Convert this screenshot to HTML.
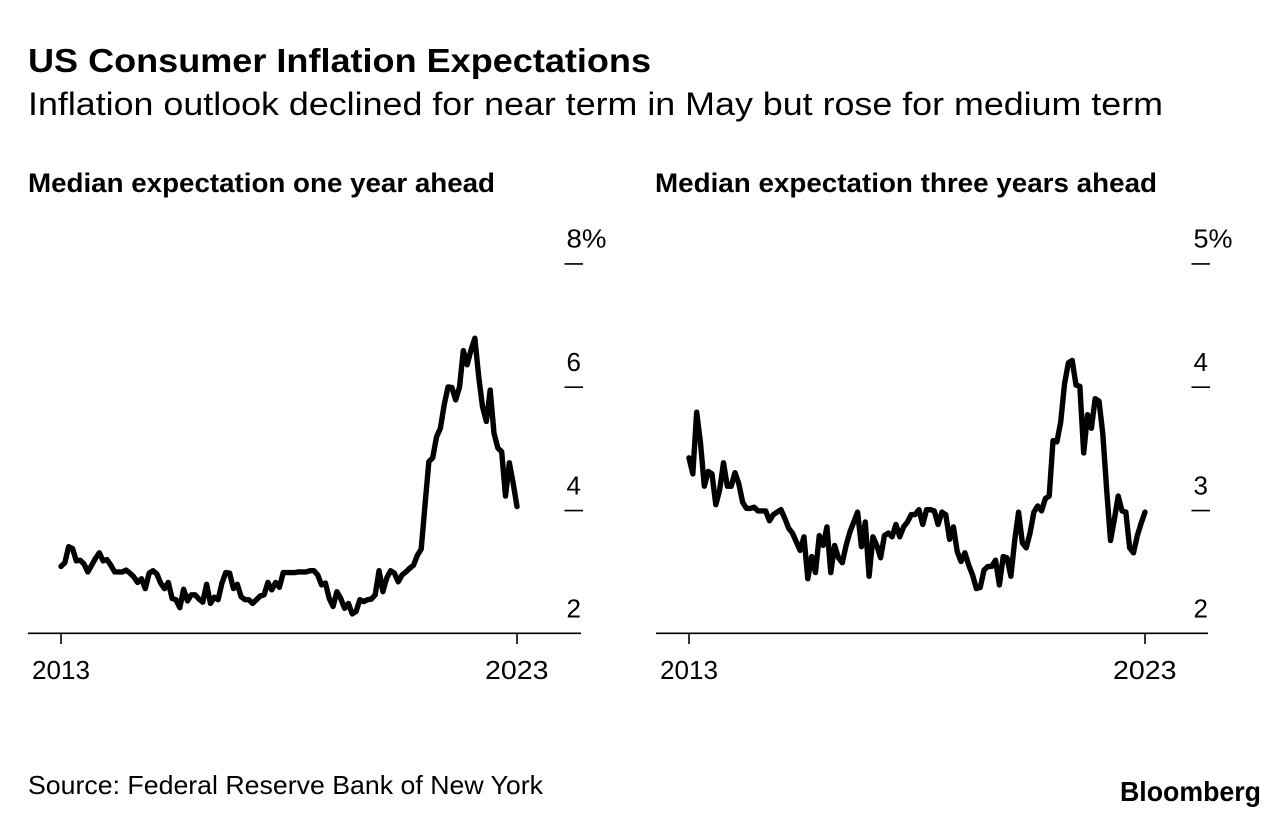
<!DOCTYPE html>
<html lang="en">
<head>
<meta charset="utf-8">
<title>US Consumer Inflation Expectations</title>
<style>
html,body{margin:0;padding:0;background:#fff;}
svg{display:block;}
text{font-family:"Liberation Sans",sans-serif;fill:#000;}
</style>
</head>
<body>
<svg id="root" width="1283" height="824" viewBox="0 0 1283 824" xmlns="http://www.w3.org/2000/svg">
  <rect width="1283" height="824" fill="#fff"/>
  <text x="28" y="72" font-size="33" font-weight="700" textLength="623" lengthAdjust="spacingAndGlyphs">US Consumer Inflation Expectations</text>
  <text x="28" y="115" font-size="32" textLength="1135" lengthAdjust="spacingAndGlyphs">Inflation outlook declined for near term in May but rose for medium term</text>
  <text x="28" y="192" font-size="27" font-weight="700" textLength="467" lengthAdjust="spacingAndGlyphs">Median expectation one year ahead</text>
  <text x="655" y="192" font-size="27" font-weight="700" textLength="502" lengthAdjust="spacingAndGlyphs">Median expectation three years ahead</text>
  <g id="left-panel"></g>
  <g id="right-panel"></g>
  <text x="28" y="794" font-size="26" textLength="515" lengthAdjust="spacingAndGlyphs">Source: Federal Reserve Bank of New York</text>
  <text x="1120" y="801" font-size="28" font-weight="700" textLength="141" lengthAdjust="spacingAndGlyphs">Bloomberg</text>
</svg>
<script>
const xTickLabels = ["2013", "2023"];
const xTickIndexes = [0, 119];

const oneYearTicks = [2, 4, 6, 8];
const oneYearTickLabels = ["2", "4", "6", "8%"];
const oneYearValues = [
  3.08,3.14,3.40,3.37,3.17,3.18,3.12,2.99,3.10,3.21,
  3.30,3.17,3.19,3.10,2.99,2.99,2.99,3.02,2.97,2.91,
  2.82,2.88,2.72,2.97,3.01,2.96,2.81,2.72,2.82,2.56,
  2.54,2.41,2.71,2.52,2.62,2.62,2.55,2.50,2.79,2.48,
  2.58,2.54,2.81,2.98,2.97,2.72,2.79,2.59,2.54,2.54,
  2.48,2.54,2.60,2.62,2.82,2.70,2.82,2.74,2.98,2.98,
  2.98,2.98,2.99,2.99,2.99,3.01,3.01,2.94,2.78,2.81,
  2.56,2.43,2.67,2.56,2.40,2.48,2.31,2.35,2.54,2.51,
  2.54,2.55,2.62,3.01,2.67,2.89,3.01,2.97,2.83,2.94,
  2.99,3.05,3.10,3.26,3.36,4.08,4.78,4.84,5.18,5.32,
  5.70,5.99,5.98,5.78,5.99,6.58,6.35,6.59,6.78,6.16,
  5.67,5.43,5.94,5.24,5.00,4.94,4.22,4.76,4.43,4.05
];

const threeYearTicks = [2, 3, 4, 5];
const threeYearTickLabels = ["2", "3", "4", "5%"];
const threeYearValues = [
  3.42,3.29,3.79,3.54,3.19,3.31,3.29,3.04,3.16,3.38,
  3.19,3.19,3.30,3.21,3.06,3.01,3.01,3.02,2.99,2.99,
  2.99,2.91,2.96,2.98,3.00,2.93,2.85,2.81,2.74,2.67,
  2.78,2.44,2.62,2.49,2.79,2.71,2.86,2.49,2.71,2.61,
  2.57,2.71,2.82,2.90,2.98,2.70,2.90,2.46,2.78,2.71,
  2.61,2.79,2.81,2.78,2.88,2.78,2.86,2.90,2.96,2.96,
  3.00,2.88,3.00,3.00,2.99,2.88,2.98,2.96,2.76,2.86,
  2.66,2.58,2.65,2.55,2.47,2.36,2.37,2.51,2.54,2.54,
  2.59,2.39,2.62,2.61,2.46,2.75,2.98,2.73,2.69,2.81,
  2.98,3.03,2.99,3.09,3.11,3.56,3.55,3.71,4.02,4.19,
  4.21,4.01,4.00,3.46,3.77,3.66,3.90,3.88,3.61,3.16,
  2.75,2.92,3.11,2.99,2.98,2.69,2.65,2.79,2.89,2.98
];

const SVG_NS = "http://www.w3.org/2000/svg";

function makeScale(d0, d1, r0, r1) {
  return function (v) { return r0 + (v - d0) * (r1 - r0) / (d1 - d0); };
}

function drawPanel(groupId, panel, values, ticks, tickLabels) {
  const group = document.getElementById(groupId);
  const xScale = makeScale(0, values.length - 1, panel.xStart, panel.xEnd);
  const yScale = makeScale(ticks[0], ticks[ticks.length - 1], panel.yBottom, panel.yTop);

  ticks.forEach(function (tick, i) {
    const y = yScale(tick);
    if (i > 0) {
      const mark = document.createElementNS(SVG_NS, "line");
      
      
      mark.setAttribute("x1", panel.axisEnd - 16.5);
      mark.setAttribute("x2", panel.axisEnd + 2);
      mark.setAttribute("y1", y + 0.9);
      mark.setAttribute("y2", y + 0.9);
      mark.setAttribute("stroke", "#000");
      mark.setAttribute("stroke-width", "1.6");
      group.appendChild(mark);
    }
    const label = document.createElementNS(SVG_NS, "text");
    
    
    label.setAttribute("x", panel.axisEnd - 14.5);
    label.setAttribute("y", y - 15.4);
    label.setAttribute("font-size", "26");
    if (i === ticks.length - 1) {
      label.setAttribute("textLength", panel.topLabelWidth);
      label.setAttribute("lengthAdjust", "spacingAndGlyphs");
    }
    label.textContent = tickLabels[i];
    group.appendChild(label);
  });

  const baseline = document.createElementNS(SVG_NS, "line");
  
  
  baseline.setAttribute("x1", panel.axisStart);
  baseline.setAttribute("x2", panel.axisEnd);
  baseline.setAttribute("y1", panel.yBottom + 0.3);
  baseline.setAttribute("y2", panel.yBottom + 0.3);
  baseline.setAttribute("stroke", "#000");
  baseline.setAttribute("stroke-width", "1.6");
  group.appendChild(baseline);

  xTickIndexes.forEach(function (index, i) {
    const x = xScale(index);
    const mark = document.createElementNS(SVG_NS, "line");
    
    
    mark.setAttribute("x1", x);
    mark.setAttribute("x2", x);
    mark.setAttribute("y1", panel.yBottom);
    mark.setAttribute("y2", panel.yBottom + 11);
    mark.setAttribute("stroke", "#000");
    mark.setAttribute("stroke-width", "1.6");
    group.appendChild(mark);

    const label = document.createElementNS(SVG_NS, "text");
    
    
    label.setAttribute("x", i === 0 ? x - 29 : x - 32);
    label.setAttribute("y", panel.yBottom + 46);
    label.setAttribute("font-size", "26");
    label.setAttribute("textLength", i === 0 ? 58 : 63.5);
    label.setAttribute("lengthAdjust", "spacingAndGlyphs");
    label.textContent = xTickLabels[i];
    group.appendChild(label);
  });

  const points = values.map(function (v, i) {
    return xScale(i).toFixed(2) + "," + yScale(v).toFixed(2);
  }).join(" ");
  const line = document.createElementNS(SVG_NS, "polyline");
  
  
  line.setAttribute("points", points);
  line.setAttribute("fill", "none");
  line.setAttribute("stroke", "#000");
  line.setAttribute("stroke-width", "5.4");
  line.setAttribute("stroke-linejoin", "round");
  line.setAttribute("stroke-linecap", "round");
  group.appendChild(line);
}

drawPanel("left-panel",
  { xStart: 61, xEnd: 517, yBottom: 633, yTop: 263, axisStart: 28, axisEnd: 581, topLabelWidth: 40 },
  oneYearValues, oneYearTicks, oneYearTickLabels);
drawPanel("right-panel",
  { xStart: 689, xEnd: 1145, yBottom: 633, yTop: 263, axisStart: 656, axisEnd: 1208, topLabelWidth: 39 },
  threeYearValues, threeYearTicks, threeYearTickLabels);
</script>
</body>
</html>
